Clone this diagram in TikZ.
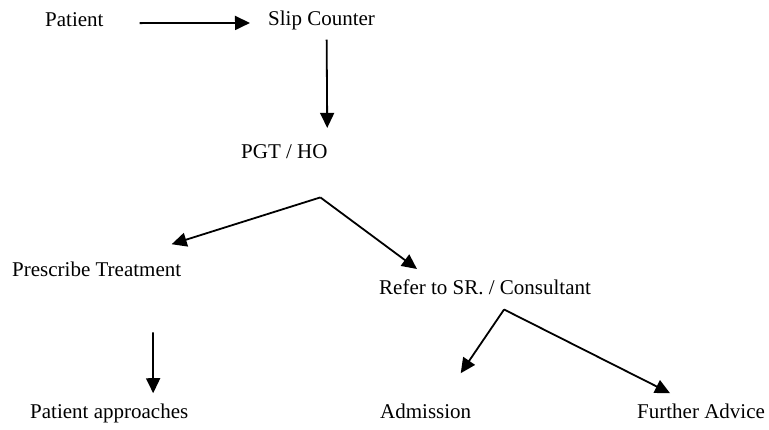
\documentclass[tikz,border=0pt]{standalone}
\usepackage{fontspec}
\setmainfont{Liberation Serif}
\usetikzlibrary{arrows.meta}
\begin{document}
\begin{tikzpicture}[x=1pt,y=-1pt,
  lbl/.style={anchor=base west,inner sep=0pt,font=\fontsize{21}{25}\selectfont},
  arr/.style={-{Triangle[length=15pt,width=14pt]},line width=1.8pt}]
\useasboundingbox (0,0) rectangle (769,430);
\node[lbl] (patient) at (45,27) {Patient};
\node[lbl] (slip) at (268,26) {Slip Counter};
\node[lbl] (pgt) at (241,159) {PGT / HO};
\node[lbl] (treat) at (12,277) {Prescribe Treatment};
\node[lbl] (refer) at (379,295) {Refer to SR. / Consultant};
\node[lbl] (approach) at (30,419) {Patient approaches};
\node[lbl] (admit) at (380,419) {Admission};
\node[lbl] (advice) at (637,419) {Further Advice};
\coordinate (fork1) at ([xshift=36pt,yshift=-38pt]pgt.south);
\coordinate (fork2) at ([xshift=19pt,yshift=-14pt]refer.south);
\draw[arr,shorten <=36pt,shorten >=18pt] ([yshift=-3pt]patient.east) -- ([yshift=-2pt]slip.west);
\draw[arr,shorten <=9pt,shorten >=17pt] ([xshift=5pt]slip.south) -- ([xshift=43pt]pgt.north);
\draw[arr] (fork1) -- ([xshift=75pt,yshift=18pt]treat.north);
\draw[arr] (fork1) -- ([xshift=38pt,yshift=11pt]refer.north west);
\draw[arr,shorten <=55pt,shorten >=11pt] ([xshift=56pt]treat.south) -- ([xshift=44pt]approach.north);
\draw[arr] (fork2) -- ([xshift=35pt,yshift=31pt]admit.north);
\draw[arr] (fork2) -- ([xshift=-31pt,yshift=11pt]advice.north);
\end{tikzpicture}
\end{document}
